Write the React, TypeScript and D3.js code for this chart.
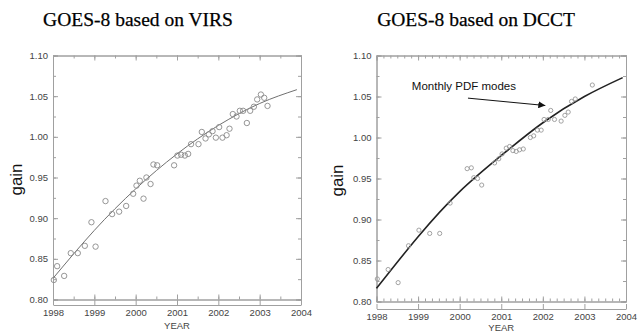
import { useEffect, useRef } from "react";
import * as d3 from "d3";

// tick labels
const yearTicks = [1998, 1999, 2000, 2001, 2002, 2003, 2004];
const gainTicks = [0.8, 0.85, 0.9, 0.95, 1.0, 1.05, 1.1];

// VIRS based monthly points
const virsYear = [
  1998.02, 1998.1, 1998.27, 1998.43, 1998.6, 1998.77, 1998.93, 1999.03, 1999.27, 1999.43,
  1999.6, 1999.77, 1999.94, 2000.02, 2000.1, 2000.19, 2000.26, 2000.36, 2000.43, 2000.52,
  2000.93, 2001.01, 2001.1, 2001.19, 2001.27, 2001.34, 2001.52, 2001.6, 2001.69, 2001.77,
  2001.86, 2001.94, 2002.02, 2002.1, 2002.2, 2002.27, 2002.35, 2002.44, 2002.52, 2002.6,
  2002.69, 2002.77, 2002.86, 2002.94, 2003.03, 2003.11, 2003.19,
];
const virsGain = [
  0.824, 0.841, 0.829, 0.857, 0.857, 0.866, 0.895, 0.865, 0.921, 0.905,
  0.908, 0.915, 0.93, 0.94, 0.946, 0.924, 0.95, 0.942, 0.966, 0.965,
  0.965, 0.977, 0.978, 0.977, 0.979, 0.991, 0.991, 1.006, 0.998, 1.003,
  1.007, 0.999, 1.012, 0.999, 1.002, 1.01, 1.028, 1.025, 1.032, 1.032,
  1.017, 1.032, 1.037, 1.046, 1.052, 1.048, 1.038,
];
const virsFitYear = [1998, 1999, 2000, 2001, 2002, 2003, 2003.9];
const virsFitGain = [0.826, 0.885, 0.936, 0.979, 1.014, 1.041, 1.058];

// DCCT based monthly PDF modes
const dcctYear = [
  1998.02, 1998.28, 1998.52, 1998.77, 1999.02, 1999.28, 1999.52, 1999.77, 2000.18, 2000.28,
  2000.34, 2000.43, 2000.53, 2000.84, 2000.94, 2001.02, 2001.12, 2001.2, 2001.28, 2001.36,
  2001.44, 2001.53, 2001.7, 2001.78, 2001.87, 2001.96, 2002.03, 2002.13, 2002.19, 2002.28,
  2002.44, 2002.53, 2002.61, 2002.69, 2002.78, 2003.19,
];
const dcctGain = [
  0.8275, 0.839, 0.823, 0.868, 0.887, 0.883, 0.883, 0.92, 0.962, 0.963,
  0.951, 0.95, 0.942, 0.969, 0.974, 0.98, 0.987, 0.989, 0.984, 0.983,
  0.985, 0.986, 1.0, 1.002, 1.009, 1.009, 1.022, 1.022, 1.033, 1.022,
  1.02, 1.027, 1.031, 1.044, 1.047, 1.064,
];
const dcctFitYear = [1998, 1999, 2000, 2001, 2002, 2003, 2003.92];
const dcctFitGain = [0.816, 0.879, 0.934, 0.978, 1.018, 1.05, 1.073];

const GRID = "#a0a0a0";
const TXT = "#444";
const SANS = "Liberation Sans, Arial, sans-serif";

type Panel = {
  title: string;
  titleX: number;
  left: number;
  right: number;
  top: number;
  bottom: number;
  axisY: number;
  yearY: number;
  labelX: number;
  minorPerYear: number;
  px: number[];
  py: number[];
  fx: number[];
  fy: number[];
  r: number;
  dot: string;
  line: string;
  lineW: number;
};

const panels: Panel[] = [
  {
    title: "GOES-8 based on VIRS", titleX: 138,
    left: 53, right: 301, top: 55.5, bottom: 299.5, axisY: 305, yearY: 329, labelX: 16,
    minorPerYear: 2, px: virsYear, py: virsGain, fx: virsFitYear, fy: virsFitGain,
    r: 2.7, dot: "#8a8a8a", line: "#707070", lineW: 1,
  },
  {
    title: "GOES-8 based on DCCT", titleX: 476,
    left: 376.5, right: 626, top: 55.5, bottom: 301.5, axisY: 309, yearY: 330.5, labelX: 337,
    minorPerYear: 6, px: dcctYear, py: dcctGain, fx: dcctFitYear, fy: dcctFitGain,
    r: 2.1, dot: "#999", line: "#222", lineW: 1.6,
  },
];

function drawPanel(svg: d3.Selection<SVGSVGElement, unknown, null, undefined>, p: Panel) {
  const x = d3.scaleLinear().domain([1998, 2004]).range([p.left, p.right]);
  const y = d3.scaleLinear().domain([0.8, 1.1]).range([p.bottom, p.top]);
  const minorX = d3.range(1998, 2004.0001, 1 / p.minorPerYear);
  const minorY = d3.range(0.8, 1.1001, 0.025);

  const g = svg.append("g");

  const style = (sel: any) => {
    sel.selectAll("path,line").attr("stroke", GRID);
    sel.selectAll("text").attr("fill", TXT).style("font-family", SANS).style("font-size", "9.5px");
  };

  // box sides with inward ticks
  g.append("g").attr("transform", `translate(${p.left},0)`)
    .call(d3.axisLeft(y).tickValues(minorY).tickSize(-3).tickFormat(() => "")).call(style);
  g.append("g").attr("transform", `translate(${p.left},0)`)
    .call(d3.axisLeft(y).tickValues(gainTicks).tickSize(-5).tickPadding(5).tickFormat(d3.format(".2f"))).call(style);
  g.append("g").attr("transform", `translate(${p.right},0)`)
    .call(d3.axisRight(y).tickValues(minorY).tickSize(-3).tickFormat(() => "")).call(style);
  g.append("g").attr("transform", `translate(${p.right},0)`)
    .call(d3.axisRight(y).tickValues(gainTicks).tickSize(-5).tickFormat(() => "")).call(style);
  g.append("g").attr("transform", `translate(0,${p.top})`)
    .call(d3.axisTop(x).tickValues(minorX).tickSize(-3).tickFormat(() => "")).call(style);
  g.append("g").attr("transform", `translate(0,${p.top})`)
    .call(d3.axisTop(x).tickValues(yearTicks).tickSize(-5).tickFormat(() => "")).call(style);
  g.append("g").attr("transform", `translate(0,${p.bottom})`)
    .call(d3.axisBottom(x).tickValues(minorX).tickSize(-3).tickFormat(() => "")).call(style);
  g.append("g").attr("transform", `translate(0,${p.bottom})`)
    .call(d3.axisBottom(x).tickValues(yearTicks).tickSize(-5).tickFormat(() => "")).call(style);

  // detached year axis
  g.append("g").attr("transform", `translate(0,${p.axisY})`)
    .call(d3.axisBottom(x).tickValues(yearTicks).tickSize(-5).tickSizeOuter(0).tickPadding(4).tickFormat(d3.format("d"))).call(style);

  g.append("text").attr("x", (p.left + p.right) / 2).attr("y", p.yearY)
    .attr("text-anchor", "middle").attr("fill", TXT)
    .style("font-family", SANS).style("font-size", "9.5px").text("YEAR");

  g.append("text").attr("transform", `translate(${p.labelX + 6},${(p.top + p.bottom) / 2 + 2}) rotate(-90)`)
    .attr("text-anchor", "middle").attr("fill", "#111")
    .style("font-family", SANS).style("font-size", "17px").text("gain");

  g.append("text").attr("x", p.titleX).attr("y", 26).attr("text-anchor", "middle").attr("fill", "#000")
    .attr("stroke", "#000").attr("stroke-width", 0.25)
    .style("font-family", "Liberation Serif, Times New Roman, serif").style("font-size", "19.5px").text(p.title);

  // fit curve
  const pts = p.fx.map((v, i) => [v, p.fy[i]] as [number, number]);
  g.append("path").datum(pts)
    .attr("d", d3.line<[number, number]>().x((d) => x(d[0])).y((d) => y(d[1])).curve(d3.curveNatural))
    .attr("fill", "none").attr("stroke", p.line).attr("stroke-width", p.lineW);

  // monthly points
  g.selectAll(".pt").data(p.px).enter().append("circle")
    .attr("cx", (d) => x(d)).attr("cy", (_d, i) => y(p.py[i])).attr("r", p.r)
    .attr("fill", "none").attr("stroke", p.dot).attr("stroke-width", 0.9);

  return { x, y };
}

export default function App() {
  const svgRef = useRef<SVGSVGElement>(null);

  useEffect(() => {
    const svg = d3.select(svgRef.current);
    svg.selectAll("*").remove();
    svg.append("rect").attr("width", 639).attr("height", 334).attr("fill", "#fff");

    panels.forEach((p) => drawPanel(svg as any, p));

    // annotation on the DCCT panel
    const p = panels[1];
    const x = d3.scaleLinear().domain([1998, 2004]).range([p.left, p.right]);
    const y = d3.scaleLinear().domain([0.8, 1.1]).range([p.bottom, p.top]);
    const defs = svg.append("defs");
    defs.append("marker").attr("id", "head").attr("viewBox", "0 0 10 10").attr("refX", 10).attr("refY", 5)
      .attr("markerWidth", 7).attr("markerHeight", 7).attr("orient", "auto")
      .append("path").attr("d", "M0,0 L10,5 L0,10 Z").attr("fill", "#111");
    svg.append("line").attr("x1", x(2000.2)).attr("y1", y(1.048)).attr("x2", x(2002.06)).attr("y2", y(1.039))
      .attr("stroke", "#111").attr("stroke-width", 1).attr("marker-end", "url(#head)");
    svg.append("text").attr("x", x(1998.85)).attr("y", y(1.058)).attr("fill", "#111")
      .style("font-family", SANS).style("font-size", "11.5px").text("Monthly PDF modes");
  }, []);

  return (
    <svg ref={svgRef} width={639} height={334} style={{ position: "absolute", left: 0, top: 0 }} />
  );
}
